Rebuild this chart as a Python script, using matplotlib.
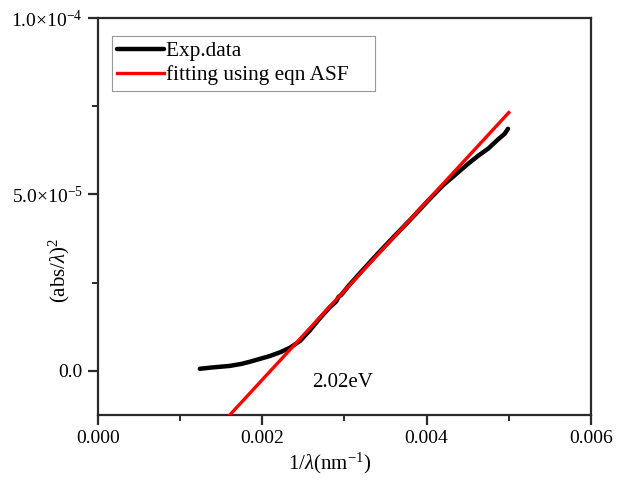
import numpy as np
import matplotlib
matplotlib.use("Agg")
import matplotlib.pyplot as plt
from matplotlib.ticker import FixedLocator, FuncFormatter

plt.rcParams['font.family'] = ['Liberation Serif', 'DejaVu Serif']
plt.rcParams['mathtext.fontset'] = 'custom'
plt.rcParams['mathtext.rm'] = 'Liberation Serif'
plt.rcParams['mathtext.it'] = 'Liberation Serif:italic'

# Experimental (abs/lambda)^2 versus 1/lambda
inv_lambda = [0.00124, 0.00140, 0.00160, 0.00175, 0.00185, 0.00200, 0.00209,
              0.00222, 0.00234, 0.00246, 0.00258, 0.00270, 0.00282, 0.00290,
              0.00293, 0.00296, 0.00305, 0.00320, 0.00340, 0.00360, 0.00380,
              0.00400, 0.00420, 0.00438, 0.00450, 0.00463, 0.00475, 0.00487,
              0.00495, 0.00499]
abs_sq = [0.06e-5, 0.10e-5, 0.14e-5, 0.20e-5, 0.26e-5, 0.36e-5, 0.42e-5,
          0.53e-5, 0.66e-5, 0.85e-5, 1.15e-5, 1.49e-5, 1.80e-5, 1.97e-5,
          2.10e-5, 2.15e-5, 2.41e-5, 2.80e-5, 3.31e-5, 3.80e-5, 4.28e-5,
          4.78e-5, 5.26e-5, 5.62e-5, 5.86e-5, 6.10e-5, 6.30e-5, 6.56e-5,
          6.72e-5, 6.86e-5]

# Linear ASF fit, drawn between its two end points
fit_x = [0.00160, 0.00500]
fit_y = [-1.26e-5, 7.32e-5]

gap_label = "2.02eV"

x_ticks = [0.000, 0.002, 0.004, 0.006]
x_minor = [0.001, 0.003, 0.005]
y_ticks = [0.0, 5.0e-5, 1.0e-4]
y_minor = [2.5e-5, 7.5e-5]
y_tick_labels = ["0.0", "5.0×10$^{-5}$", "1.0×10$^{-4}$"]

fig = plt.figure(figsize=(6.24, 4.95), dpi=100)
ax = fig.add_axes([0.157, 0.1616, 0.79, 0.802])

ax.plot(inv_lambda, abs_sq, color='black', lw=3.2, solid_capstyle='round',
        label='Exp.data', zorder=2)
ax.plot(fit_x, fit_y, color='#ff0000', lw=2.4, label='fitting using eqn ASF',
        zorder=3)

ax.text(0.00298, -3.4e-6, gap_label, fontsize=15, ha='center', va='center')

ax.set_xlim(0, 0.006)
ax.set_ylim(-1.25e-5, 1.0e-4)

ax.xaxis.set_major_locator(FixedLocator(x_ticks))
ax.xaxis.set_minor_locator(FixedLocator(x_minor))
ax.xaxis.set_major_formatter(FuncFormatter(lambda v, p: f"{v:.3f}"))
ax.yaxis.set_major_locator(FixedLocator(y_ticks))
ax.yaxis.set_minor_locator(FixedLocator(y_minor))
ax.set_yticklabels(y_tick_labels)

spine_color = '#2a2a2a'
for s in ax.spines.values():
    s.set_linewidth(1.6)
    s.set_color(spine_color)
ax.tick_params(which='major', direction='out', length=7, width=1.6,
               color=spine_color, labelsize=14, pad=4)
ax.tick_params(which='minor', direction='out', length=4, width=1.4,
               color=spine_color)

ax.set_xlabel(r"1/$\lambda$(nm$^{-1}$)", fontsize=15)
ax.set_ylabel(r"(abs/$\lambda$)$^{2}$", fontsize=15)
ax.xaxis.set_label_coords(0.47, -0.09)
ax.yaxis.set_label_coords(-0.052, 0.365)

leg = ax.legend(loc='upper left', bbox_to_anchor=(0.028, 0.955), fontsize=15.3,
                frameon=True, fancybox=False, framealpha=1, edgecolor='#999999',
                handlelength=2.2, handletextpad=0.1, borderpad=0.25,
                labelspacing=0.2, borderaxespad=0)
leg.get_frame().set_linewidth(0.8)
# leave some empty room at the right of the legend box
leg._legend_box.sep = 0
for t in leg.get_texts():
    t.set_text(t.get_text() + "    ")

fig.savefig("out.png", dpi=100)
